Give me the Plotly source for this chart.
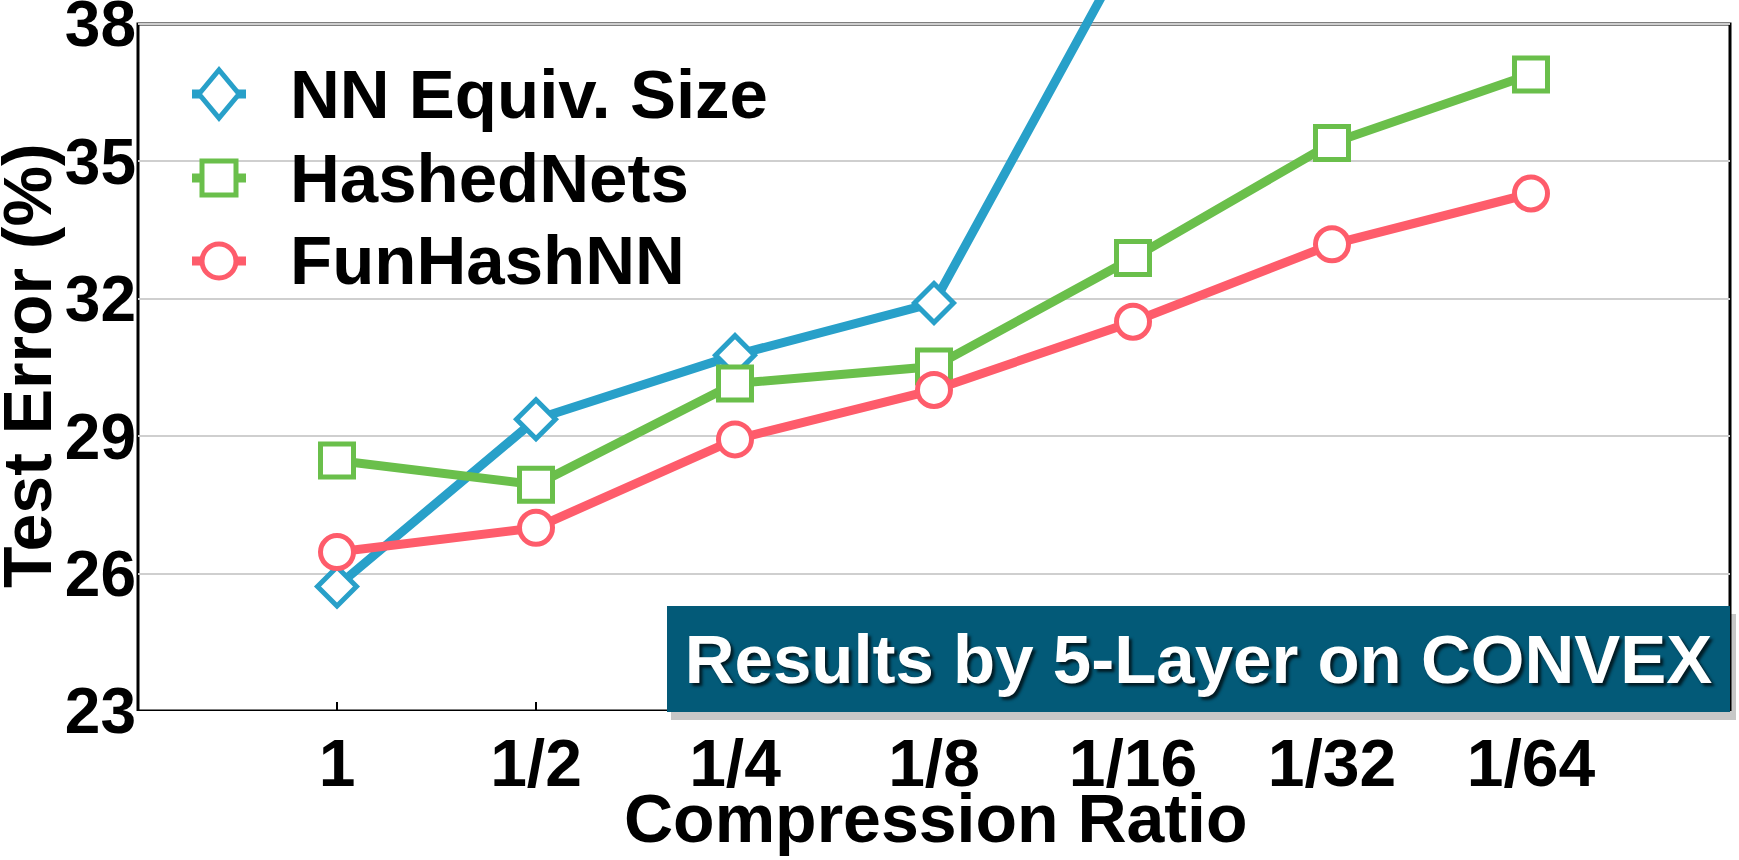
import plotly.graph_objects as go

categories = ["1", "1/2", "1/4", "1/8", "1/16", "1/32", "1/64"]
nn_equiv = [25.72, 29.37, 30.77, 31.91, 39.85, None, None]
hashednets = [28.47, 27.94, 30.15, 30.52, 32.89, 35.40, 36.90]
funhashnn = [26.47, 27.00, 28.93, 30.01, 31.50, 33.19, 34.30]
y_ticks = [23, 26, 29, 32, 35, 38]
series_names = ["NN Equiv. Size", "HashedNets", "FunHashNN"]

FONT = "Liberation Sans, Arial, sans-serif"
BLUE = "#28a0c9"
GREEN = "#6abf4b"
RED = "#fe5c6b"
BOX = "#035a78"

x = list(range(len(categories)))

W, H = 1739, 860
L, R, T, B = 138, 9, 0, 149
pw, ph = W - L - R, H - T - B
PXU = (711 - 24) / 15.0  # pixels per unit on y


def px_x(p):
    return (p - L) / pw


def px_y(p):
    return 1 - (p - T) / ph


fig = go.Figure()
series = [
    (series_names[0], nn_equiv, BLUE, "diamond", 30),
    (series_names[1], hashednets, GREEN, "square", 33),
    (series_names[2], funhashnn, RED, "circle", 33),
]
for name, ys, col, sym, size in series:
    fig.add_trace(go.Scatter(
        x=x, y=ys, name=name, mode="lines+markers",
        line=dict(color=col, width=9),
        marker=dict(symbol=sym, size=size, color="white",
                    line=dict(color=col, width=5)),
        connectgaps=False, showlegend=False,
    ))

fig.update_layout(
    width=W, height=H,
    margin=dict(l=L, r=R, t=T, b=B, autoexpand=False),
    plot_bgcolor="white", paper_bgcolor="white",
    font=dict(family=FONT, color="black", size=64, weight="bold"),
    showlegend=False,
    xaxis=dict(range=[-1, 7], tickvals=x, ticktext=categories, showgrid=False,
               zeroline=False, ticks="inside", ticklen=9, tickwidth=2, tickcolor="black",
               tickfont=dict(size=66, family=FONT, weight="bold"), ticklabelstandoff=8,
               showline=False, automargin=False),
    yaxis=dict(range=[23, 38 + 24 / PXU], tickvals=y_ticks, showgrid=True,
               gridcolor="#cfcfcf", gridwidth=1.5, zeroline=False, ticks="",
               tickfont=dict(size=64, family=FONT, weight="bold"), ticklabelstandoff=1,
               ticklabeloverflow="allow", showline=False, automargin=False),
)

# frame around the 23..38 region
fig.add_shape(type="rect", xref="paper", yref="y", x0=0, x1=1, y0=23, y1=38,
              line=dict(color="black", width=3), layer="between")

# custom legend (large symbols as in the reference)
rows = [94, 178, 261]
cols = [BLUE, GREEN, RED]
lx = px_x(219)
for i, (name, col, ry) in enumerate(zip(series_names, cols, rows)):
    yy = px_y(ry)
    fig.add_shape(type="line", xref="paper", yref="paper",
                  x0=px_x(192), x1=px_x(246), y0=yy, y1=yy,
                  line=dict(color=col, width=9), layer="above")
    common = dict(xref="paper", yref="paper", xsizemode="pixel", ysizemode="pixel",
                  xanchor=lx, yanchor=yy, fillcolor="white",
                  line=dict(color=col, width=5), layer="above")
    if i == 0:
        fig.add_shape(type="path", path="M -20 0 L 0 24 L 20 0 L 0 -24 Z", **common)
    elif i == 1:
        fig.add_shape(type="rect", x0=-17, x1=17, y0=-17, y1=17, **common)
    else:
        fig.add_shape(type="circle", x0=-17, x1=17, y0=-17, y1=17, **common)
    fig.add_annotation(text=name, xref="paper", yref="paper", x=px_x(288), y=yy,
                       xanchor="left", yanchor="middle", showarrow=False,
                       font=dict(size=69, family=FONT, weight="bold", color="black"))

# shadow for caption box
bx0 = px_x(667)
by0 = px_y(712)
by1 = px_y(606)
fig.add_shape(type="rect", xref="paper", yref="paper",
              x0=bx0 + 4 / pw, x1=1 + 6 / pw, y0=by0 - 8 / ph, y1=by1 - 8 / ph,
              fillcolor="rgba(0,0,0,0.22)", line=dict(width=0), layer="above")

fig.add_annotation(
    text="Results by 5-Layer on CONVEX", xref="paper", yref="paper",
    x=1, y=by0, xanchor="right", yanchor="bottom", showarrow=False,
    width=1730 - 667, height=106, bgcolor=BOX, borderwidth=0, borderpad=0,
    font=dict(size=69, color="white", family=FONT, weight="bold",
              shadow="3px 3px 3px rgba(0,0,0,0.7)"),
)

fig.add_annotation(
    text="Compression Ratio", xref="paper", yref="paper",
    x=px_x(935), y=px_y(818), xanchor="center", yanchor="middle", showarrow=False,
    font=dict(size=68, family=FONT, weight="bold"),
)
fig.add_annotation(
    text="Test Error (%)", xref="paper", yref="paper",
    x=px_x(27), y=px_y(366), xanchor="center", yanchor="middle",
    textangle=-90, showarrow=False,
    font=dict(size=68, family=FONT, weight="bold"),
)

fig.write_html(
    "out.html",
    config={"displayModeBar": False},
    post_script="document.body.style.margin='0';document.body.style.overflow='hidden';",
)
